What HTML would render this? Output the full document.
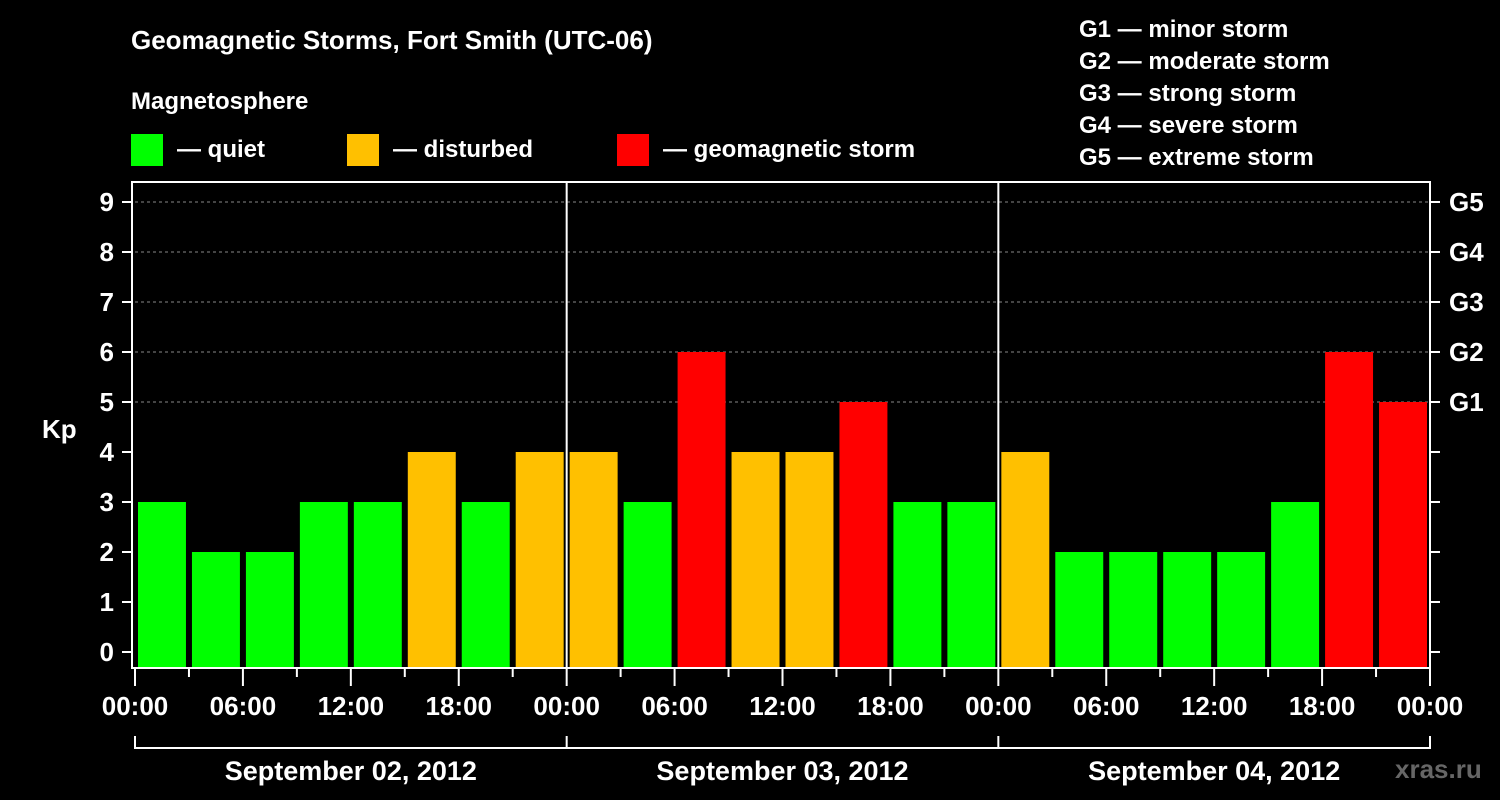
<!DOCTYPE html>
<html><head><meta charset="utf-8"><style>
body{margin:0;background:#000;width:1500px;height:800px;overflow:hidden}
svg{display:block;font-family:"Liberation Sans",Arial,sans-serif;font-weight:bold}
</style></head><body>
<svg id="c" width="1500" height="800">
<rect width="1500" height="800" fill="#000"/>
<text x="131" y="49" fill="#fff" font-size="26">Geomagnetic Storms, Fort Smith (UTC-06)</text>
<text x="131" y="109" fill="#fff" font-size="24">Magnetosphere</text>
<g><rect x="131" y="134" width="32" height="32" fill="#00ff00"/><text x="177" y="157" fill="#fff" font-size="24">— quiet</text></g>
<g><rect x="347" y="134" width="32" height="32" fill="#ffc000"/><text x="393" y="157" fill="#fff" font-size="24">— disturbed</text></g>
<g><rect x="617" y="134" width="32" height="32" fill="#ff0000"/><text x="663" y="157" fill="#fff" font-size="24">— geomagnetic storm</text></g>
<g fill="#fff" font-size="24">
<text x="1079" y="37">G1 — minor storm</text><text x="1079" y="69">G2 — moderate storm</text><text x="1079" y="101">G3 — strong storm</text><text x="1079" y="133">G4 — severe storm</text><text x="1079" y="165">G5 — extreme storm</text></g>
<text x="42" y="438" fill="#fff" font-size="26">Kp</text>
<text x="1395" y="778" fill="#666" font-size="26">xras.ru</text>
<g id="plot"></g>
</svg>
<script>
const kpValues=[3,2,2,3,3,4,3,4, 4,3,6,4,4,5,3,3, 4,2,2,2,2,3,6,5];
const yTicks=[0,1,2,3,4,5,6,7,8,9];
const gLabels=["G1","G2","G3","G4","G5"];
const xTickLabels=["00:00","06:00","12:00","18:00","00:00","06:00","12:00","18:00","00:00","06:00","12:00","18:00","00:00"];
const dayLabels=["September 02, 2012","September 03, 2012","September 04, 2012"];
const NS="http://www.w3.org/2000/svg";
const g=document.getElementById('plot');
const X0=135,X1=1430,YT=182,YB=668;
const hw=(X1-X0)/72; // px per hour
const xh=h=>X0+h*hw;
const yv=v=>652-v*50;
function mk(t,a,txt){const e=document.createElementNS(NS,t);for(const k in a)e.setAttribute(k,a[k]);if(txt!==undefined)e.textContent=txt;g.appendChild(e);return e;}
// gridlines
for(let v=5;v<=9;v++){const l=mk('line',{x1:X0,x2:X1,y1:yv(v),y2:yv(v),stroke:'#888','stroke-dasharray':'3,3','stroke-width':1});

}
// bars
kpValues.forEach((v,i)=>{const c=v<4?'#00ff00':(v<5?'#ffc000':'#ff0000');
const x=xh(i*3)+3,w=3*hw-6,top=yv(v);
const r=mk('rect',{x:x,y:top,width:w,height:YB-top,fill:c});

});
// frame
const fr=mk('rect',{x:X0-3,y:YT,width:X1-X0+3,height:YB-YT,fill:'none',stroke:'#fff','stroke-width':2});


[24,48].forEach(h=>{const l=mk('line',{x1:xh(h),x2:xh(h),y1:YT,y2:YB,stroke:'#fff','stroke-width':2});

});
// y ticks
yTicks.forEach(v=>{mk('line',{x1:122,x2:132,y1:yv(v),y2:yv(v),stroke:'#fff','stroke-width':2});
mk('line',{x1:X1,x2:X1+10,y1:yv(v),y2:yv(v),stroke:'#fff','stroke-width':2});
const t=mk('text',{x:114,y:yv(v)+9,fill:'#fff','font-size':26,'text-anchor':'end'},String(v));

});
gLabels.forEach((s,i)=>{const t=mk('text',{x:1449,y:yv(5+i)+9,fill:'#fff','font-size':26},s);

});
// x ticks
for(let h=0;h<=72;h+=3){const major=h%6===0;mk('line',{x1:xh(h),x2:xh(h),y1:YB,y2:YB+(major?18:9),stroke:'#fff','stroke-width':2});}
xTickLabels.forEach((s,i)=>{const t=mk('text',{x:xh(i*6),y:715,fill:'#fff','font-size':26,'text-anchor':'middle'},s);

});
// day bracket
mk('line',{x1:X0,x2:X1,y1:748,y2:748,stroke:'#fff','stroke-width':2});
[0,24,48,72].forEach(h=>mk('line',{x1:xh(h),x2:xh(h),y1:736,y2:749,stroke:'#fff','stroke-width':2}));
dayLabels.forEach((s,i)=>{const t=mk('text',{x:xh(i*24+12),y:780,fill:'#fff','font-size':27,'text-anchor':'middle'},s);

});
</script>
</body></html>
